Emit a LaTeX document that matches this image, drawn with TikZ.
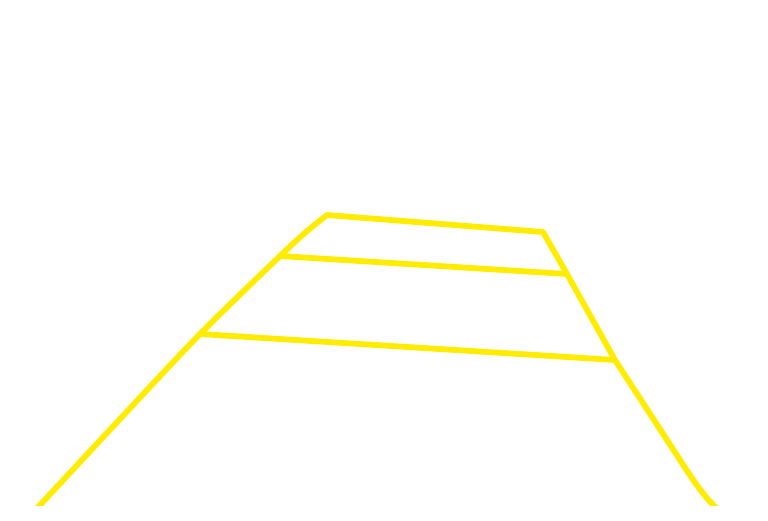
\documentclass[tikz,border=0pt]{standalone}
\definecolor{rail}{RGB}{255,236,0}
\begin{document}
\begin{tikzpicture}[x=1pt,y=-1pt,
  railline/.style={draw=rail,line width=5.8pt,line join=round,line cap=butt}]
\useasboundingbox (0,0) rectangle (768,520);
\coordinate (bl) at (28,518);
\coordinate (l2) at (200,334);
\coordinate (l1) at (280,256);
\coordinate (tl) at (327,215);
\coordinate (tr) at (543,232);
\coordinate (r1) at (567,274);
\coordinate (r2) at (615,360);
\coordinate (br) at (730,518);
\begin{scope}
\clip (0,0) rectangle (768,505);
\draw[railline] plot[smooth,tension=0.5] coordinates {(28,518) (120,419) (200,334) (280,256) (306,232) (327,215)}
  -- (tr) -- (r1) -- (r2) -- (680,460) .. controls (698,488) and (712,508) .. (br);
\draw[railline] (l1) -- (r1);
\draw[railline] (l2) -- (r2);
\end{scope}
\end{tikzpicture}
\end{document}
